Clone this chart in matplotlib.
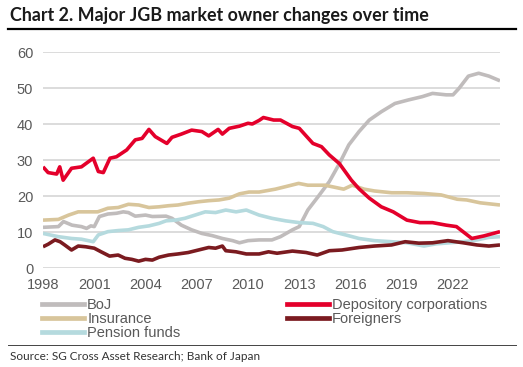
import matplotlib
matplotlib.use("Agg")
import matplotlib.pyplot as plt
from matplotlib.lines import Line2D

############################
# DATA (share of JGB holdings, %)
############################
boj_x = [1998.0, 1998.9, 1999.2, 1999.7, 2000.25, 2000.55, 2000.8, 2001.0, 2001.3, 2001.8,
         2002.3, 2002.7, 2003.0, 2003.4, 2004.0, 2004.4, 2005.2, 2005.55, 2006.1, 2006.7,
         2007.3, 2007.9, 2008.5, 2009.1, 2009.5, 2010.0, 2010.65, 2011.4, 2011.9, 2012.6,
         2013.0, 2013.5, 2014.1, 2014.76, 2015.35, 2015.9, 2016.5, 2017.1, 2017.8, 2018.6,
         2019.4, 2020.2, 2020.8, 2021.6, 2022.0, 2022.35, 2022.9, 2023.5, 2024.1, 2024.75]
boj_y = [11.3, 11.5, 12.9, 11.9, 11.5, 11.0, 11.7, 11.5, 14.3, 15.0,
         15.2, 15.6, 15.4, 14.4, 14.7, 14.3, 14.4, 13.8, 11.9, 10.6,
         9.6, 9.0, 8.2, 7.6, 7.0, 7.6, 7.8, 7.8, 8.7, 10.6,
         11.5, 16.1, 19.8, 24.0, 29.0, 34.2, 37.9, 41.1, 43.4, 45.7,
         46.7, 47.6, 48.5, 48.1, 48.1, 49.9, 53.3, 54.1, 53.3, 52.0]

dep_x = [1998.0, 1998.3, 1998.8, 1998.98, 1999.18, 1999.67, 2000.25, 2000.94, 2001.24, 2001.53,
         2001.92, 2002.3, 2002.9, 2003.4, 2003.8, 2004.2, 2004.57, 2005.25, 2005.55, 2006.1,
         2006.7, 2007.3, 2007.7, 2008.25, 2008.5, 2008.9, 2009.5, 2010.0, 2010.25, 2010.65,
         2010.9, 2011.5, 2011.9, 2012.6, 2013.0, 2013.8, 2014.3, 2014.76, 2015.35, 2016.05,
         2016.5, 2017.1, 2017.8, 2018.5, 2019.3, 2020.06, 2020.8, 2021.6, 2022.2, 2023.1,
         2023.8, 2024.75]
dep_y = [28.1, 26.5, 26.1, 28.1, 24.4, 27.7, 28.1, 30.5, 26.8, 26.5,
         30.5, 30.9, 32.8, 35.6, 36.0, 38.5, 36.5, 34.6, 36.3, 37.2,
         38.3, 37.9, 36.7, 38.5, 37.2, 38.8, 39.4, 40.2, 40.0, 41.0,
         41.8, 41.1, 41.1, 39.3, 38.8, 34.6, 33.7, 31.4, 29.0, 24.4,
         22.0, 19.4, 17.0, 15.6, 13.3, 12.6, 12.6, 11.9, 11.5, 8.2,
         8.9, 10.1]

ins_x = [1998.0, 1998.9, 1999.5, 2000.06, 2000.6, 2001.2, 2001.8, 2002.4, 2003.0, 2003.6,
         2004.2, 2004.8, 2005.35, 2005.9, 2006.5, 2007.1, 2007.7, 2008.3, 2008.9, 2009.5,
         2010.06, 2010.65, 2011.6, 2012.2, 2012.96, 2013.5, 2014.5, 2015.6, 2016.1, 2016.8,
         2017.4, 2018.4, 2019.3, 2020.3, 2021.3, 2022.25, 2022.8, 2023.6, 2024.75]
ins_y = [13.3, 13.5, 14.7, 15.6, 15.6, 15.6, 16.6, 16.8, 17.7, 17.5,
         16.8, 17.0, 17.3, 17.5, 18.0, 18.4, 18.7, 18.9, 19.4, 20.6,
         21.1, 21.1, 21.9, 22.6, 23.5, 23.0, 23.0, 21.9, 23.0, 21.9,
         21.4, 20.9, 20.9, 20.7, 20.3, 19.1, 18.9, 18.1, 17.5]

pen_x = [1998.0, 1998.9, 1999.67, 2000.25, 2000.94, 2001.24, 2001.8, 2002.4, 2003.0, 2003.6,
         2004.2, 2004.8, 2005.2, 2005.75, 2006.3, 2006.9, 2007.5, 2008.1, 2008.7, 2009.3,
         2009.9, 2010.65, 2011.4, 2012.2, 2013.0, 2013.8, 2014.4, 2014.96, 2015.7, 2016.5,
         2017.4, 2018.4, 2019.3, 2020.3, 2021.0, 2021.8, 2022.6, 2023.4, 2024.1, 2024.75]
pen_y = [9.6, 8.7, 8.2, 8.0, 7.3, 9.2, 10.1, 10.4, 10.6, 11.3,
         11.7, 12.4, 13.1, 13.3, 13.8, 14.7, 15.6, 15.4, 16.1, 15.6,
         16.1, 14.7, 13.8, 13.1, 12.6, 12.4, 11.5, 10.1, 9.2, 8.2,
         7.6, 7.3, 7.0, 6.1, 6.7, 7.0, 7.3, 7.8, 8.5, 8.7]

for_x = [1998.0, 1998.3, 1998.7, 1999.0, 1999.27, 1999.67, 2000.06, 2000.5, 2001.0, 2001.4,
         2001.9, 2002.4, 2002.8, 2003.2, 2003.6, 2004.0, 2004.4, 2004.8, 2005.35, 2005.9,
         2006.5, 2007.1, 2007.7, 2008.1, 2008.5, 2008.7, 2009.3, 2009.9, 2010.65, 2011.2,
         2011.7, 2012.6, 2013.4, 2014.05, 2014.76, 2015.5, 2016.5, 2017.4, 2018.4, 2019.2,
         2020.0, 2020.8, 2021.7, 2022.6, 2023.4, 2024.1, 2024.75]
for_y = [5.9, 6.6, 7.8, 7.3, 6.4, 5.0, 6.1, 5.9, 5.5, 4.5,
         3.3, 3.6, 2.7, 2.4, 1.9, 2.4, 2.2, 3.0, 3.6, 3.9,
         4.3, 5.0, 5.7, 5.5, 6.1, 4.8, 4.5, 3.9, 3.9, 4.5,
         4.1, 4.7, 4.3, 3.6, 4.8, 5.0, 5.7, 6.1, 6.4, 7.3,
         6.9, 7.0, 7.6, 7.0, 6.4, 6.1, 6.4]

year_ticks = [1998, 2001, 2004, 2007, 2010, 2013, 2016, 2019, 2022]
y_ticks = [0, 10, 20, 30, 40, 50, 60]

C_BOJ = "#c0bcbc"
C_DEP = "#e4002b"
C_INS = "#d8c59b"
C_PEN = "#b5dade"
C_FOR = "#7b1b20"
C_TXT = "#595959"

############################
# PLOT
############################
fig = plt.figure(figsize=(5.23, 3.67), dpi=100)
ax = fig.add_axes([43 / 523, 1 - 268 / 367, 457 / 523, 216 / 367])

lw = 2.6
ax.plot(boj_x, boj_y, color=C_BOJ, lw=lw, solid_capstyle="butt")
ax.plot(ins_x, ins_y, color=C_INS, lw=lw, solid_capstyle="butt")
ax.plot(pen_x, pen_y, color=C_PEN, lw=lw, solid_capstyle="butt")
ax.plot(for_x, for_y, color=C_FOR, lw=lw, solid_capstyle="butt")
ax.plot(dep_x, dep_y, color=C_DEP, lw=lw, solid_capstyle="butt")

ax.set_xlim(1998, 2024.75)
ax.set_ylim(0, 60)
ax.set_xticks(year_ticks)
ax.set_yticks(y_ticks)
ax.grid(True, axis="y", color="#d9d9d9", lw=1.3)
ax.set_axisbelow(True)
for s in ax.spines.values():
    s.set_visible(False)
ax.tick_params(length=0, labelsize=10.5, labelcolor=C_TXT)
for lab in ax.get_xticklabels() + ax.get_yticklabels():
    lab.set_fontfamily("Liberation Sans")
ax.tick_params(axis="x", pad=7)
ax.tick_params(axis="y", pad=7)

# legend: column 1 BoJ/Insurance/Pension, column 2 Depository/Foreigners
handles = [Line2D([], [], color=c, lw=3.4) for c in (C_BOJ, C_INS, C_PEN, C_DEP, C_FOR)]
labels = ["BoJ", "Insurance", "Pension funds", "Depository corporations", "Foreigners"]
fig.legend(handles, labels, ncol=2, loc="upper left", bbox_to_anchor=(42 / 523, 1 - 298 / 367),
           frameon=False, handlelength=2.9, handletextpad=0.2, columnspacing=7.3,
           labelspacing=0.0, borderpad=0, borderaxespad=0,
           prop={"family": "Liberation Sans", "size": 10.5}, labelcolor=C_TXT)

# title, rules and source
fig.text(10 / 523, 1 - 16 / 367, "Chart 2. Major JGB market owner changes over time",
         fontsize=12.9, fontweight="bold", family="Lato", va="center", ha="left", color="#1a1a1a")
fig.add_artist(Line2D([8 / 523, 516 / 523], [1 - 29 / 367, 1 - 29 / 367], color="black", lw=1.6))
fig.add_artist(Line2D([8 / 523, 516 / 523], [1 - 345 / 367, 1 - 345 / 367], color="#444444", lw=0.7))
fig.text(10 / 523, 1 - 356 / 367, "Source: SG Cross Asset Research; Bank of Japan",
         fontsize=8.5, family="Lato", va="center", ha="left", color="#333333")

fig.savefig("out.png", dpi=100)
